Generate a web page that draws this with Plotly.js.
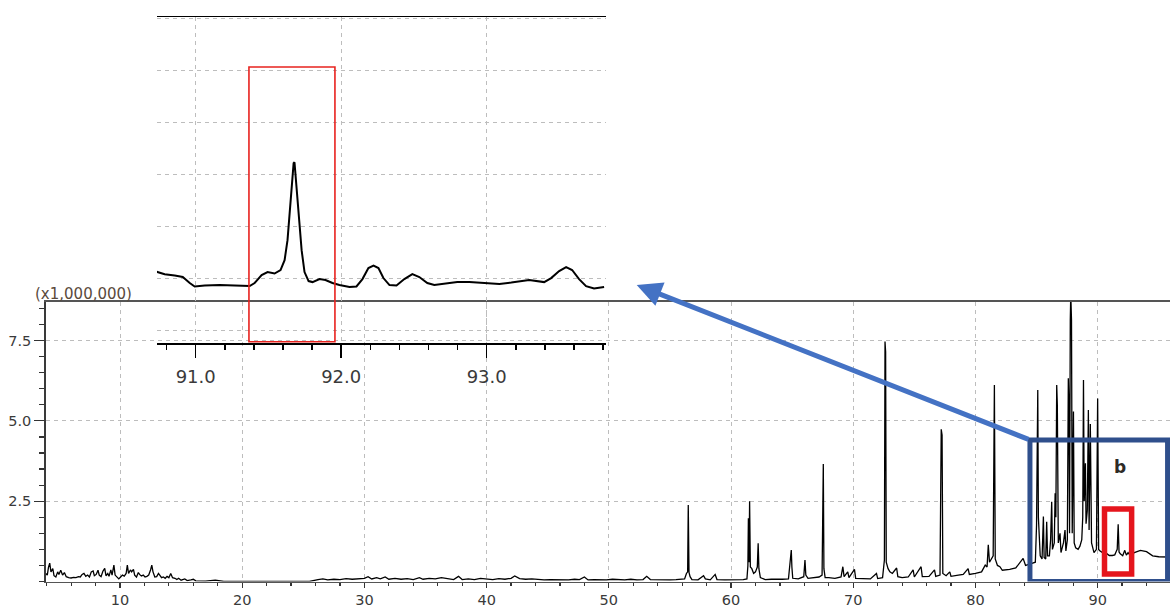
<!DOCTYPE html>
<html>
<head>
<meta charset="utf-8">
<script src="https://cdn.plot.ly/plotly-3.0.1.min.js"></script>
<style>
  html, body { margin: 0; padding: 0; background: #ffffff; }
  #chart { width: 1170px; height: 609px; }
</style>
</head>
<body>
<div id="chart"></div>
<script>
// Total ion chromatogram: retention time (min) vs intensity (x1,000,000)
const mainTime = [
  // early solvent noise
  3.92, 4.05, 4.15, 4.25, 4.35, 4.5, 4.6, 4.75, 4.9, 5.0, 5.15, 5.3, 5.45, 5.6, 5.8, 6.0, 6.2, 6.4, 6.6, 6.75,
  6.9, 7.05, 7.2, 7.35, 7.5, 7.65, 7.8, 7.9, 8.05, 8.2, 8.3, 8.45, 8.6, 8.75, 8.85, 9.0, 9.1, 9.25, 9.35, 9.5,
  9.6, 9.75, 9.9, 10.05, 10.2, 10.35, 10.5, 10.6, 10.7, 10.85, 10.95, 11.1, 11.2, 11.35, 11.5, 11.6, 11.75, 11.9,
  12.05, 12.2, 12.35, 12.5, 12.6, 12.7, 12.85, 13.0, 13.15, 13.25, 13.4, 13.55, 13.7, 13.85, 14.0, 14.15, 14.3,
  14.5, 14.65, 14.8, 15.0, 15.3, 15.5, 15.8, 16.0, 16.2,
  // quiet stretch
  17.0, 17.8, 18.5, 20.0, 22.0, 24.0, 25.5, 26.2,
  26.6, 27.0, 27.5, 28.0, 28.5, 29.0, 29.5, 30.0, 30.3, 30.6, 31.0, 31.3, 31.7, 32.0, 32.5, 33.0, 33.5, 34.0,
  34.5, 34.8, 35.3, 35.8, 36.3, 36.8, 37.3, 37.7, 38.0, 38.5, 39.0, 39.5, 40.0, 40.5, 41.0, 41.5, 42.0, 42.3,
  42.7, 43.2, 43.7, 44.2, 44.7, 45.2, 45.7, 46.2, 46.7, 47.2, 47.6, 48.0, 48.3, 48.8, 49.3, 49.8, 50.3, 50.8,
  51.3, 51.8, 52.3, 52.8, 53.1, 53.4, 54.0, 54.5, 55.0, 55.5, 56.2,
  // eluting compounds
  56.35, 56.45, 56.5, 56.56, 56.65, 56.8, 57.3, 57.6, 57.75, 57.9, 58.3, 58.7, 58.85, 59.5, 60.0, 60.5, 61.0,
  61.3, 61.38, 61.42, 61.47, 61.52, 61.58, 61.7, 61.85, 62.0, 62.15, 62.22, 62.28, 62.4, 62.8, 63.3, 63.7,
  64.2, 64.7, 64.85, 64.93, 64.98, 65.05, 65.5, 65.95, 66.05, 66.12, 66.3, 66.8, 67.2, 67.45, 67.5, 67.55,
  67.6, 67.7, 68.0, 68.5, 69.0, 69.15, 69.25, 69.55, 69.65, 70.1, 70.2, 70.8, 71.4, 71.9, 72.0, 72.4, 72.55,
  72.6, 72.65, 72.7, 72.85, 73.0, 73.2, 73.55, 73.65, 74.0, 74.5, 74.9, 75.0, 75.55, 75.65, 76.2, 76.65,
  76.75, 77.1, 77.2, 77.27, 77.33, 77.6, 77.9, 78.0, 78.6, 79.0, 79.4, 79.5, 80.0, 80.5, 80.8, 80.95, 81.05,
  81.15, 81.45, 81.5, 81.55, 81.62, 81.8, 82.0, 82.2, 82.8, 83.3, 83.9, 84.1, 84.5,
  // late-eluting cluster
  84.9, 85.0, 85.07, 85.1, 85.15, 85.3, 85.45, 85.56, 85.62, 85.75, 85.83, 85.9, 86.05, 86.15, 86.24, 86.3,
  86.45, 86.52, 86.58, 86.65, 86.7, 86.78, 86.92, 87.0, 87.2, 87.33, 87.4, 87.52, 87.6, 87.65, 87.7, 87.76,
  87.8, 87.86, 87.92, 88.02, 88.08, 88.2, 88.4, 88.55, 88.7, 88.78, 88.84, 88.9, 89.0, 89.05, 89.15, 89.24,
  89.3, 89.4, 89.5, 89.7, 89.9, 90.0, 90.08, 90.2, 90.4, 90.7,
  // region b
  90.95, 91.2, 91.4, 91.5, 91.6, 91.68, 91.75, 91.85, 92.05, 92.22, 92.35, 92.49, 92.64, 93.0, 93.5, 94.0,
  94.5, 95.0, 95.5, 95.92
];
const mainSignal = [
  0.25, 0.2, 0.45, 0.57, 0.3, 0.4, 0.18, 0.14, 0.3, 0.22, 0.35, 0.2, 0.28, 0.15, 0.12, 0.11, 0.13, 0.12, 0.15, 0.14,
  0.22, 0.25, 0.16, 0.2, 0.14, 0.3, 0.33, 0.18, 0.22, 0.35, 0.2, 0.15, 0.32, 0.41, 0.18, 0.25, 0.16, 0.36, 0.2, 0.51,
  0.2, 0.12, 0.08, 0.14, 0.2, 0.17, 0.25, 0.51, 0.25, 0.36, 0.3, 0.38, 0.2, 0.14, 0.28, 0.22, 0.17, 0.2,
  0.14, 0.16, 0.2, 0.36, 0.51, 0.3, 0.14, 0.15, 0.25, 0.2, 0.12, 0.14, 0.1, 0.16, 0.12, 0.25, 0.12,
  0.1, 0.06, 0.1, 0.04, 0.08, 0.03, 0.05, 0.07, 0.02,
  0.01, 0.04, 0.0, 0.0, 0.0, 0.0, 0.0, 0.06,
  0.08, 0.05, 0.07, 0.06, 0.09, 0.07, 0.08, 0.1, 0.15, 0.08, 0.12, 0.08, 0.14, 0.07, 0.1, 0.07, 0.09, 0.06,
  0.12, 0.07, 0.1, 0.08, 0.12, 0.08, 0.06, 0.16, 0.06, 0.08, 0.06, 0.1, 0.08, 0.06, 0.09, 0.07, 0.1, 0.17,
  0.09, 0.07, 0.08, 0.06, 0.05, 0.06, 0.05, 0.06, 0.05, 0.07, 0.06, 0.14, 0.05, 0.06, 0.05, 0.05, 0.07, 0.06,
  0.05, 0.07, 0.05, 0.06, 0.16, 0.06, 0.05, 0.06, 0.05, 0.06, 0.08,
  0.25, 0.3, 2.38, 0.28, 0.15, 0.06, 0.05, 0.14, 0.18, 0.08, 0.05, 0.22, 0.06, 0.05, 0.05, 0.06, 0.06,
  0.08, 0.5, 1.97, 0.6, 2.5, 0.45, 0.4, 0.25, 0.3, 0.45, 1.19, 0.4, 0.12, 0.06, 0.07, 0.06,
  0.07, 0.08, 0.57, 0.98, 0.45, 0.1, 0.08, 0.15, 0.67, 0.2, 0.1, 0.12, 0.14, 0.2, 1.66, 3.66,
  0.4, 0.12, 0.12, 0.1, 0.14, 0.46, 0.15, 0.3, 0.12, 0.38, 0.1, 0.08, 0.08, 0.25, 0.09, 0.12, 0.67,
  7.47, 7.15, 0.6, 0.4, 0.3, 0.25, 0.42, 0.15, 0.12, 0.14, 0.36, 0.14, 0.46, 0.15, 0.16, 0.36,
  0.16, 0.2, 4.74, 4.56, 0.25, 0.18, 0.3, 0.16, 0.2, 0.22, 0.4, 0.22, 0.25, 0.3, 0.51, 0.45, 1.14,
  0.6, 0.8, 2.48, 6.12, 0.7, 0.5, 0.46, 0.35, 0.38, 0.42, 0.72, 0.5, 0.55,
  0.6, 1.76, 4.66, 5.96, 2.0, 0.8, 0.7, 2.02, 0.75, 0.7, 1.86, 0.8, 0.8, 1.3, 2.48, 1.0,
  1.2, 2.75, 2.0, 6.12, 5.5, 1.2, 1.5, 0.9, 1.2, 1.6, 0.95, 1.3, 6.33, 5.55, 1.5, 8.14,
  8.95, 8.14, 1.5, 5.29, 1.2, 1.05, 1.0, 1.1, 1.3, 2.0, 6.27, 2.5, 3.68, 1.8, 2.2, 5.34,
  1.6, 4.9, 1.2, 0.9, 1.0, 5.7, 1.0, 0.95, 0.9, 0.88,
  0.81, 0.81, 0.83, 0.92, 1.0, 1.78, 0.92, 0.86, 0.8, 0.97, 0.82, 0.9, 0.82, 0.9, 0.97, 0.93,
  0.8, 0.77, 0.77, 0.76
];

// Enlarged view of region b (same units)
const insetTime = [
  90.732, 90.787, 90.856, 90.911, 90.959, 90.993, 91.062, 91.165, 91.268, 91.371, 91.405, 91.453, 91.494,
  91.542, 91.583, 91.611, 91.631, 91.645, 91.659, 91.673, 91.679, 91.693, 91.707, 91.728, 91.748, 91.776,
  91.803, 91.851, 91.892, 91.940, 91.988, 92.057, 92.105, 92.146, 92.187, 92.222, 92.256, 92.290, 92.332,
  92.380, 92.434, 92.489, 92.537, 92.592, 92.640, 92.709, 92.798, 92.881, 92.984, 93.087, 93.169, 93.292,
  93.395, 93.443, 93.498, 93.546, 93.587, 93.635, 93.683, 93.738, 93.807
];
const insetSignal = [
  0.918, 0.900, 0.889, 0.878, 0.832, 0.805, 0.812, 0.816, 0.812, 0.808, 0.832, 0.893, 0.916,
  0.905, 0.932, 1.008, 1.162, 1.355, 1.547, 1.755, 1.762, 1.585, 1.355, 1.085, 0.916, 0.847,
  0.839, 0.862, 0.855, 0.832, 0.816, 0.801, 0.805, 0.862, 0.947, 0.966, 0.947, 0.870, 0.816,
  0.812, 0.862, 0.900, 0.878, 0.832, 0.816, 0.824, 0.839, 0.839, 0.832, 0.824, 0.835, 0.855,
  0.839, 0.870, 0.924, 0.955, 0.932, 0.862, 0.808, 0.789, 0.801
];

const mainXTicks = [10, 20, 30, 40, 50, 60, 70, 80, 90];
const mainYTicks = [2.5, 5.0, 7.5];
const insetXTicks = [91.0, 92.0, 93.0];

const W = 1170, H = 609;
const px = v => v / W;
const py = v => (H - v) / H;

const axisFont = { family: 'DejaVu Sans, Verdana, sans-serif', size: 14.5, color: '#3a3a3a' };
const gridDash = '4px,4px';

const data = [
  {
    x: mainTime, y: mainSignal, type: 'scatter', mode: 'lines',
    line: { color: '#000000', width: 1.3 }, xaxis: 'x', yaxis: 'y', hoverinfo: 'skip'
  },
  {
    x: insetTime, y: insetSignal, type: 'scatter', mode: 'lines',
    line: { color: '#000000', width: 2 }, xaxis: 'x2', yaxis: 'y2', hoverinfo: 'skip'
  }
];

const layout = {
  width: W, height: H,
  margin: { l: 0, r: 0, t: 0, b: 0 },
  paper_bgcolor: '#ffffff',
  plot_bgcolor: 'rgba(0,0,0,0)',
  showlegend: false,
  xaxis: {
    domain: [px(45.7), 1], range: [3.92, 95.92], automargin: false,
    tickmode: 'array', tickvals: mainXTicks, ticks: 'outside', ticklen: 5, tickcolor: '#333', tickwidth: 1.2,
    tickfont: axisFont, showline: true, linecolor: '#555555', linewidth: 1.5, mirror: true,
    showgrid: true, gridcolor: '#bdbdbd', griddash: gridDash, gridwidth: 1, zeroline: false,
    minor: { tickmode: 'linear', tick0: 0, dtick: 2, ticks: 'outside', ticklen: 3, tickcolor: '#333', showgrid: false }
  },
  yaxis: {
    domain: [py(581.5), py(301.7)], range: [0, 8.71], automargin: false,
    tickmode: 'array', tickvals: mainYTicks, tickformat: '.1f', ticks: 'outside', ticklen: 10,
    tickcolor: '#333', tickwidth: 1.2, tickfont: axisFont,
    showline: true, linecolor: '#3a3a3a', linewidth: 1.5, mirror: false,
    showgrid: true, gridcolor: '#bdbdbd', griddash: gridDash, gridwidth: 1, zeroline: false,
    minor: { tickmode: 'linear', tick0: 0, dtick: 0.5, ticks: 'outside', ticklen: 5, tickcolor: '#333', showgrid: false }
  },
  xaxis2: {
    domain: [px(157), px(606)], range: [90.734, 93.82], anchor: 'y2', automargin: false,
    tickmode: 'array', tickvals: insetXTicks, tickformat: '.1f', ticks: 'outside', ticklen: 13,
    tickcolor: '#000', tickwidth: 1.5, ticklabelstandoff: 4,
    tickfont: { family: 'DejaVu Sans, Verdana, sans-serif', size: 18, color: '#3a3a3a' },
    showline: true, linecolor: '#000000', linewidth: 1.5, mirror: true,
    showgrid: true, gridcolor: '#bdbdbd', griddash: gridDash, gridwidth: 1, zeroline: false,
    minor: { tickmode: 'linear', tick0: 0, dtick: 0.2, ticks: 'outside', ticklen: 5, tickcolor: '#000', showgrid: false }
  },
  yaxis2: {
    domain: [py(343), py(17)], range: [0.37, 2.88], anchor: 'x2', automargin: false,
    tickmode: 'linear', tick0: 0.07, dtick: 0.4, ticks: '', showticklabels: false,
    showline: false, showgrid: true, gridcolor: '#bdbdbd', griddash: gridDash, gridwidth: 1, zeroline: false
  },
  shapes: [
    // region b on the full chromatogram
    { type: 'rect', xref: 'x', yref: 'y', x0: 84.46, x1: 95.72, y0: 0, y1: 4.405,
      line: { color: '#2F4F8C', width: 5 }, fillcolor: 'rgba(0,0,0,0)', layer: 'above' },
    { type: 'rect', xref: 'x', yref: 'y', x0: 90.56, x1: 92.78, y0: 0.23, y1: 2.26,
      line: { color: '#E5151D', width: 5.5 }, fillcolor: 'rgba(0,0,0,0)', layer: 'above' },
    // marked peak in the enlarged view
    { type: 'rect', xref: 'x2', yref: 'y2', x0: 91.366, x1: 91.957, y0: 0.38, y1: 2.495,
      line: { color: '#E8231F', width: 1.6 }, fillcolor: 'rgba(0,0,0,0)', layer: 'above' }
  ],
  annotations: [
    { xref: 'paper', yref: 'paper', x: px(33), y: py(294), xanchor: 'left', yanchor: 'middle',
      text: '(x1,000,000)', showarrow: false,
      font: { family: 'DejaVu Sans, Verdana, sans-serif', size: 15, color: '#5a4a3c' } },
    { xref: 'paper', yref: 'paper', x: px(1120), y: py(467), xanchor: 'center', yanchor: 'middle',
      text: '<b>b</b>', showarrow: false,
      font: { family: 'DejaVu Sans, Verdana, sans-serif', size: 17, color: '#2e2a26' } },
    { xref: 'paper', yref: 'paper', x: px(636.7), y: py(285), text: '', showarrow: true,
      axref: 'pixel', ayref: 'pixel', ax: 393.3, ay: 155,
      arrowhead: 2, arrowsize: 1, arrowwidth: 5, arrowcolor: '#4472C4', standoff: 0, startstandoff: 0 }
  ]
};

Plotly.newPlot('chart', data, layout, { staticPlot: true, displayModeBar: false });
</script>
</body>
</html>
